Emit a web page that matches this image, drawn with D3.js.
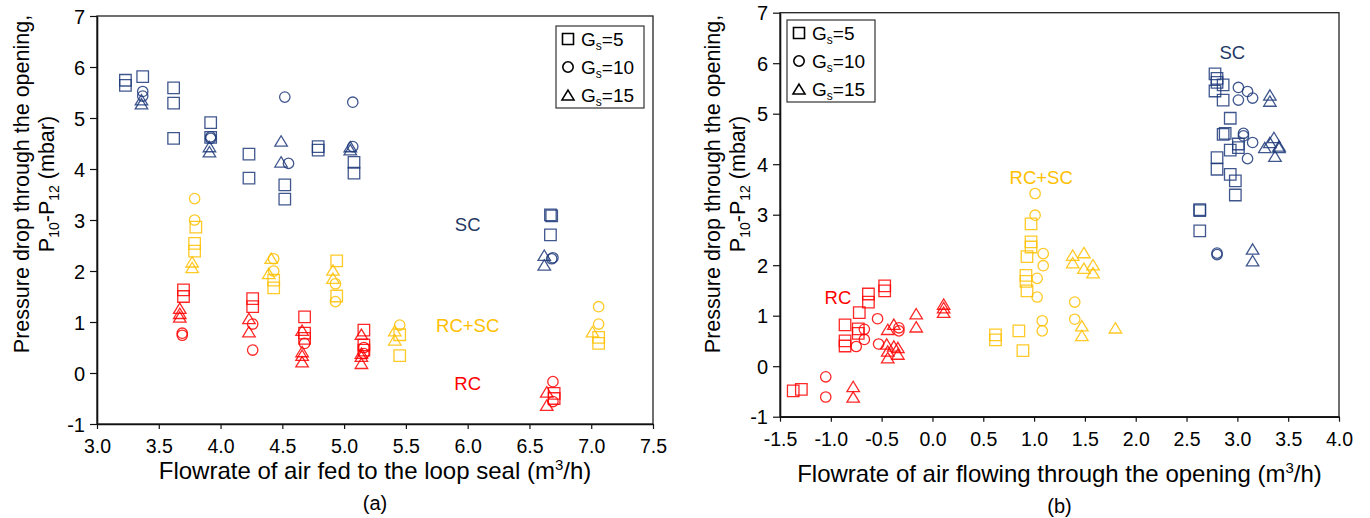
<!DOCTYPE html>
<meta charset="utf-8">
<html>
<head>
<script src="https://d3js.org/d3.v7.min.js"></script>
<style>
  body { margin: 0; background: #fff; }
  text { font-family: Arial, "Liberation Sans", sans-serif; }
</style>
</head>
<body>
<script>
// ---- panel (a): pressure drop vs air fed to loop seal ----
var a_sc5 = [[3.23,5.74],[3.23,5.64],[3.37,5.81],[3.62,5.59],[3.62,5.29],[3.62,4.60],[3.92,4.91],[3.92,4.62],[4.23,4.29],[4.23,3.82],[4.52,3.69],[4.52,3.41],[4.79,4.44],[4.79,4.37],[5.08,4.13],[5.08,3.92],[6.67,3.10],[6.68,3.08],[6.67,2.71]];
var a_sc10 = [[3.37,5.52],[3.37,5.43],[3.92,4.63],[3.92,4.60],[4.52,5.41],[4.55,4.11],[5.07,5.31],[5.07,4.44],[6.69,2.26],[6.68,2.24]];
var a_sc15 = [[3.36,5.36],[3.36,5.28],[3.91,4.44],[3.91,4.34],[4.49,4.55],[4.49,4.14],[5.05,4.44],[5.05,4.38],[6.62,2.31],[6.62,2.12]];
var a_rcsc5 = [[3.80,2.86],[3.79,2.54],[3.79,2.39],[4.43,1.82],[4.43,1.67],[4.94,2.20],[4.94,1.51],[5.45,0.75],[5.45,0.34],[7.06,0.70],[7.06,0.58]];
var a_rcsc10 = [[3.79,3.42],[3.79,3.00],[4.43,2.24],[4.43,2.00],[4.93,1.75],[4.93,1.40],[5.45,0.94],[7.06,1.30],[7.06,0.96]];
var a_rcsc15 = [[3.77,2.18],[3.77,2.07],[4.41,2.25],[4.39,1.95],[4.91,2.02],[4.91,1.86],[5.41,0.83],[5.41,0.65],[7.01,0.81]];
var a_rc5 = [[3.70,1.63],[3.70,1.50],[4.26,1.46],[4.26,1.30],[4.68,1.10],[4.68,0.78],[4.68,0.68],[5.16,0.84],[5.16,0.55],[5.16,0.45],[6.70,-0.40],[6.70,-0.50]];
var a_rc10 = [[3.69,0.78],[3.69,0.74],[4.26,0.96],[4.26,0.45],[4.68,0.58],[5.16,0.50],[5.16,0.38],[6.69,-0.17],[6.69,-0.56]];
var a_rc15 = [[3.67,1.27],[3.67,1.17],[3.67,1.10],[4.23,1.07],[4.23,0.81],[4.66,0.84],[4.66,0.42],[4.66,0.35],[4.66,0.22],[5.14,0.76],[5.14,0.39],[5.14,0.33],[5.14,0.19],[6.64,-0.37],[6.64,-0.63]];

// ---- panel (b): pressure drop vs air flowing through the opening ----
var b_sc5 = [[2.78,5.79],[2.80,5.70],[2.80,5.62],[2.86,5.57],[2.78,5.45],[2.86,5.27],[2.93,4.91],[2.88,4.61],[2.86,4.59],[3.01,4.40],[3.01,4.33],[2.93,4.28],[2.80,4.13],[2.80,3.90],[2.93,3.80],[2.98,3.67],[2.98,3.39],[2.63,3.08],[2.63,3.10],[2.63,2.68]];
var b_sc10 = [[3.01,5.52],[3.10,5.44],[3.01,5.27],[3.15,5.31],[3.06,4.61],[3.06,4.56],[3.15,4.43],[3.10,4.11],[2.80,2.24],[2.80,2.21]];
var b_sc15 = [[3.32,5.37],[3.32,5.25],[3.36,4.53],[3.27,4.33],[3.32,4.43],[3.41,4.36],[3.41,4.33],[3.37,4.16],[3.15,2.32],[3.15,2.09]];
var b_rcsc5 = [[0.97,2.82],[0.97,2.46],[0.97,2.36],[0.93,2.17],[0.92,1.80],[0.92,1.68],[0.93,1.49],[0.62,0.62],[0.62,0.52],[0.85,0.70],[0.89,0.31]];
var b_rcsc10 = [[1.01,3.42],[1.01,2.99],[1.09,2.23],[1.09,1.99],[1.03,1.74],[1.03,1.37],[1.08,0.90],[1.08,0.70],[1.40,1.27],[1.40,0.93]];
var b_rcsc15 = [[1.38,2.20],[1.38,2.05],[1.49,2.25],[1.49,1.94],[1.58,2.01],[1.58,1.85],[1.47,0.80],[1.47,0.61],[1.80,0.76]];
var b_rc5 = [[-1.37,-0.49],[-1.29,-0.46],[-0.86,0.82],[-0.86,0.50],[-0.86,0.40],[-0.72,1.06],[-0.73,0.74],[-0.73,0.65],[-0.63,1.43],[-0.63,1.27],[-0.47,1.59],[-0.47,1.49]];
var b_rc10 = [[-1.05,-0.21],[-1.05,-0.61],[-0.67,0.73],[-0.67,0.53],[-0.75,0.39],[-0.54,0.94],[-0.53,0.44],[-0.33,0.76],[-0.33,0.70]];
var b_rc15 = [[-0.78,-0.40],[-0.78,-0.61],[-0.44,0.73],[-0.38,0.83],[-0.45,0.44],[-0.44,0.30],[-0.44,0.17],[-0.38,0.40],[-0.34,0.37],[-0.34,0.24],[-0.16,1.04],[-0.16,0.78],[0.11,1.23],[0.11,1.16],[0.11,1.07]];

var legend_labels = ["5", "10", "15"];
var legend_shapes = ["square", "circle", "triangle"];
var y_ticks = [-1, 0, 1, 2, 3, 4, 5, 6, 7];
var a_x_ticks = [3.0, 3.5, 4.0, 4.5, 5.0, 5.5, 6.0, 6.5, 7.0, 7.5];
var b_x_ticks = [-1.5, -1.0, -0.5, 0.0, 0.5, 1.0, 1.5, 2.0, 2.5, 3.0, 3.5, 4.0];

var navy = "#1F3A7A", red = "#FF0000", yellow = "#FFC000";

var svg = d3.select("body").append("svg")
    .attr("width", 1370)
    .attr("height", 518);

function shapePath(shape, s) {
    if (shape == "square") return "M" + (-s/2) + "," + (-s/2) + "h" + s + "v" + s + "h" + (-s) + "Z";
    if (shape == "circle") { var r = s / 2 - 0.3; return "M" + r + ",0A" + r + "," + r + " 0 1,1 " + (-r) + ",0A" + r + "," + r + " 0 1,1 " + r + ",0Z"; }
    var h = s * 0.9;
    return "M0," + (-h/2) + "L" + (s/2 + 0.5) + "," + (h/2) + "L" + (-s/2 - 0.5) + "," + (h/2) + "Z";
}

function drawPanel(p) {
    var x = d3.scaleLinear().domain(p.xdom).range(p.xr),
        y = d3.scaleLinear().domain([-1, 7]).range(p.yr);

    // frame
    svg.append("rect")
        .attr("x", p.xr[0]).attr("y", p.yr[1])
        .attr("width", p.xr[1] - p.xr[0]).attr("height", p.yr[0] - p.yr[1])
        .attr("fill", "none").attr("stroke", "#222").attr("stroke-width", 1.3);

    var ya = svg.append("g")
        .attr("transform", "translate(" + p.xr[0] + ",0)")
        .call(d3.axisLeft(y).tickValues(y_ticks).tickSize(7).tickSizeOuter(0).tickPadding(5).tickFormat(function(d){ return String(d); }));
    var xa = svg.append("g")
        .attr("transform", "translate(0," + p.yr[0] + ")")
        .call(d3.axisBottom(x).tickValues(p.xticks).tickSize(5).tickSizeOuter(0).tickPadding(p.xpad).tickFormat(function(d){ return d.toFixed(1); }));
    [ya, xa].forEach(function(a){
        a.select(".domain").attr("stroke", "#111").attr("stroke-width", 1.6);
        a.selectAll(".tick line").attr("stroke", "#111").attr("stroke-width", 1.2);
        a.selectAll(".tick text").attr("fill", "#000")
            .style("font-family", "Arial, 'Liberation Sans', sans-serif");
    });
    ya.selectAll(".tick text").attr("font-size", 20).attr("dy", "0.36em");
    xa.selectAll(".tick text").attr("font-size", 19.5);

    // points
    p.series.forEach(function(s){
        svg.append("g").selectAll("path")
            .data(s.data)
            .enter().append("path")
            .attr("d", shapePath(s.shape, s.shape == "circle" ? 11 : 11.5))
            .attr("transform", function(d){ return "translate(" + x(d[0]) + "," + y(d[1]) + ")"; })
            .attr("fill", "none")
            .attr("stroke", s.color)
            .attr("stroke-width", 1.3)
            .attr("stroke-opacity", 0.85);
    });

    // regime labels
    p.labels.forEach(function(l){
        svg.append("text")
            .attr("x", x(l.x)).attr("y", y(l.y))
            .attr("text-anchor", "middle")
            .attr("font-size", 18.5)
            .attr("fill", l.color)
            .text(l.text);
    });

    // legend
    var lg = svg.append("g").attr("transform", "translate(" + p.legend[0] + "," + p.legend[1] + ")");
    lg.append("rect").attr("width", 88).attr("height", 82)
        .attr("fill", "#fff").attr("stroke", "#333").attr("stroke-width", 1.2);
    legend_labels.forEach(function(lab, i){
        var cy = 13 + i * 28;
        lg.append("path")
            .attr("d", shapePath(legend_shapes[i], 11))
            .attr("transform", "translate(12," + cy + ")")
            .attr("fill", "none").attr("stroke", "#000").attr("stroke-width", 1.6);
        var t = lg.append("text").attr("x", 25).attr("y", cy + 7).attr("font-size", 19);
        t.append("tspan").text("G");
        t.append("tspan").attr("font-size", 12).attr("dy", 4).text("s");
        t.append("tspan").attr("dy", -4).text("=" + lab);
    });

    // x title
    var xt = svg.append("text")
        .attr("x", (p.xr[0] + p.xr[1]) / 2).attr("y", p.titleY)
        .attr("text-anchor", "middle").attr("font-size", 24);
    xt.append("tspan").text(p.xtitle + " (m");
    xt.append("tspan").attr("font-size", 15).attr("dy", -9).text("3");
    xt.append("tspan").attr("dy", 9).text("/h)");

    svg.append("text")
        .attr("x", (p.xr[0] + p.xr[1]) / 2).attr("y", p.tagY)
        .attr("text-anchor", "middle").attr("font-size", 20)
        .text(p.tag);

    // y title (two lines, rotated)
    var yg = svg.append("g").attr("transform", "translate(" + p.ytx[0] + "," + 184 + ") rotate(-90)");
    yg.append("text").attr("x", 0).attr("y", 0).attr("text-anchor", "middle").attr("font-size", 21.5)
        .text("Pressure drop through the opening,");
    var t2 = yg.append("text").attr("x", 0).attr("y", p.ytx[1] - p.ytx[0]).attr("text-anchor", "middle").attr("font-size", 21.5);
    t2.append("tspan").text("P");
    t2.append("tspan").attr("font-size", 14).attr("dy", 5).text("10");
    t2.append("tspan").attr("dy", -5).text("-P");
    t2.append("tspan").attr("font-size", 14).attr("dy", 5).text("12");
    t2.append("tspan").attr("dy", -5).text(" (mbar)");
}

drawPanel({
    xdom: [3, 7.5], xr: [97, 653], yr: [424, 16], xticks: a_x_ticks, xpad: 10,
    series: [
        {data: a_sc5, shape: "square", color: navy}, {data: a_sc10, shape: "circle", color: navy}, {data: a_sc15, shape: "triangle", color: navy},
        {data: a_rcsc5, shape: "square", color: yellow}, {data: a_rcsc10, shape: "circle", color: yellow}, {data: a_rcsc15, shape: "triangle", color: yellow},
        {data: a_rc5, shape: "square", color: red}, {data: a_rc10, shape: "circle", color: red}, {data: a_rc15, shape: "triangle", color: red}
    ],
    labels: [
        {text: "SC", x: 6.0, y: 2.79, color: "#1F3864"},
        {text: "RC+SC", x: 6.0, y: 0.81, color: yellow},
        {text: "RC", x: 6.0, y: -0.33, color: red}
    ],
    legend: [556, 26],
    xtitle: "Flowrate of air fed to the loop seal",
    titleY: 479, tag: "(a)", tagY: 510,
    ytx: [29, 54]
});

drawPanel({
    xdom: [-1.5, 4], xr: [780, 1339], yr: [416.7, 12.7], xticks: b_x_ticks, xpad: 10,
    series: [
        {data: b_sc5, shape: "square", color: navy}, {data: b_sc10, shape: "circle", color: navy}, {data: b_sc15, shape: "triangle", color: navy},
        {data: b_rcsc5, shape: "square", color: yellow}, {data: b_rcsc10, shape: "circle", color: yellow}, {data: b_rcsc15, shape: "triangle", color: yellow},
        {data: b_rc5, shape: "square", color: red}, {data: b_rc10, shape: "circle", color: red}, {data: b_rc15, shape: "triangle", color: red}
    ],
    labels: [
        {text: "SC", x: 2.95, y: 6.09, color: "#1F3864"},
        {text: "RC+SC", x: 1.07, y: 3.60, color: yellow},
        {text: "RC", x: -0.93, y: 1.24, color: red}
    ],
    legend: [787, 20],
    xtitle: "Flowrate of air flowing through the opening",
    titleY: 482, tag: "(b)", tagY: 513,
    ytx: [720, 745]
});
</script>
</body>
</html>
